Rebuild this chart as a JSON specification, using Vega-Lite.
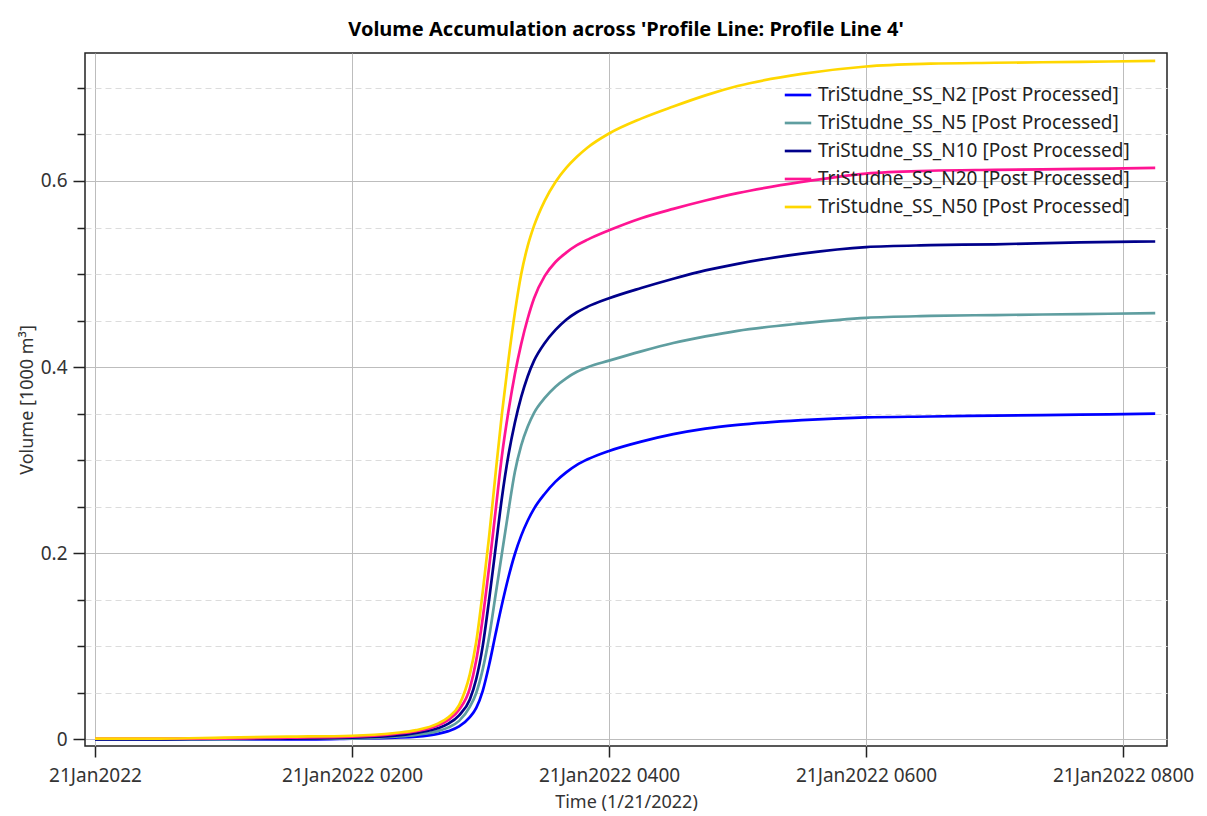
{
  "$schema": "https://vega.github.io/schema/vega-lite/v6.json",
  "width": 1082,
  "height": 693,
  "autosize": "none",
  "padding": {"left": 85, "top": 53, "right": 40, "bottom": 70},
  "background": "white",
  "title": {"text": "Volume Accumulation across 'Profile Line: Profile Line 4'", "font": "Noto Sans", "fontSize": 20, "fontWeight": "bold", "color": "#000", "anchor": "middle", "offset": 13},
  "datasets": {
    "rows": [
      {"time":"2022-01-21T00:00:00","series":"TriStudne_SS_N2 [Post Processed]","volume":0},
      {"time":"2022-01-21T00:30:00","series":"TriStudne_SS_N2 [Post Processed]","volume":0},
      {"time":"2022-01-21T01:00:00","series":"TriStudne_SS_N2 [Post Processed]","volume":0},
      {"time":"2022-01-21T01:30:00","series":"TriStudne_SS_N2 [Post Processed]","volume":0},
      {"time":"2022-01-21T02:00:00","series":"TriStudne_SS_N2 [Post Processed]","volume":0.001},
      {"time":"2022-01-21T02:20:00","series":"TriStudne_SS_N2 [Post Processed]","volume":0.002},
      {"time":"2022-01-21T02:30:00","series":"TriStudne_SS_N2 [Post Processed]","volume":0.003},
      {"time":"2022-01-21T02:40:00","series":"TriStudne_SS_N2 [Post Processed]","volume":0.006},
      {"time":"2022-01-21T02:45:00","series":"TriStudne_SS_N2 [Post Processed]","volume":0.009},
      {"time":"2022-01-21T02:50:00","series":"TriStudne_SS_N2 [Post Processed]","volume":0.014},
      {"time":"2022-01-21T02:55:00","series":"TriStudne_SS_N2 [Post Processed]","volume":0.024},
      {"time":"2022-01-21T02:58:00","series":"TriStudne_SS_N2 [Post Processed]","volume":0.034},
      {"time":"2022-01-21T03:01:00","series":"TriStudne_SS_N2 [Post Processed]","volume":0.052},
      {"time":"2022-01-21T03:04:00","series":"TriStudne_SS_N2 [Post Processed]","volume":0.08},
      {"time":"2022-01-21T03:07:00","series":"TriStudne_SS_N2 [Post Processed]","volume":0.113},
      {"time":"2022-01-21T03:10:00","series":"TriStudne_SS_N2 [Post Processed]","volume":0.145},
      {"time":"2022-01-21T03:13:00","series":"TriStudne_SS_N2 [Post Processed]","volume":0.174},
      {"time":"2022-01-21T03:16:00","series":"TriStudne_SS_N2 [Post Processed]","volume":0.199},
      {"time":"2022-01-21T03:19:00","series":"TriStudne_SS_N2 [Post Processed]","volume":0.219},
      {"time":"2022-01-21T03:22:00","series":"TriStudne_SS_N2 [Post Processed]","volume":0.235},
      {"time":"2022-01-21T03:25:00","series":"TriStudne_SS_N2 [Post Processed]","volume":0.248},
      {"time":"2022-01-21T03:30:00","series":"TriStudne_SS_N2 [Post Processed]","volume":0.264},
      {"time":"2022-01-21T03:35:00","series":"TriStudne_SS_N2 [Post Processed]","volume":0.277},
      {"time":"2022-01-21T03:40:00","series":"TriStudne_SS_N2 [Post Processed]","volume":0.287},
      {"time":"2022-01-21T03:45:00","series":"TriStudne_SS_N2 [Post Processed]","volume":0.295},
      {"time":"2022-01-21T03:50:00","series":"TriStudne_SS_N2 [Post Processed]","volume":0.301},
      {"time":"2022-01-21T04:00:00","series":"TriStudne_SS_N2 [Post Processed]","volume":0.310},
      {"time":"2022-01-21T04:15:00","series":"TriStudne_SS_N2 [Post Processed]","volume":0.320},
      {"time":"2022-01-21T04:30:00","series":"TriStudne_SS_N2 [Post Processed]","volume":0.328},
      {"time":"2022-01-21T04:45:00","series":"TriStudne_SS_N2 [Post Processed]","volume":0.334},
      {"time":"2022-01-21T05:00:00","series":"TriStudne_SS_N2 [Post Processed]","volume":0.338},
      {"time":"2022-01-21T05:30:00","series":"TriStudne_SS_N2 [Post Processed]","volume":0.343},
      {"time":"2022-01-21T06:00:00","series":"TriStudne_SS_N2 [Post Processed]","volume":0.346},
      {"time":"2022-01-21T06:30:00","series":"TriStudne_SS_N2 [Post Processed]","volume":0.347},
      {"time":"2022-01-21T07:00:00","series":"TriStudne_SS_N2 [Post Processed]","volume":0.348},
      {"time":"2022-01-21T07:40:00","series":"TriStudne_SS_N2 [Post Processed]","volume":0.349},
      {"time":"2022-01-21T08:15:00","series":"TriStudne_SS_N2 [Post Processed]","volume":0.350},

      {"time":"2022-01-21T00:00:00","series":"TriStudne_SS_N5 [Post Processed]","volume":0},
      {"time":"2022-01-21T00:30:00","series":"TriStudne_SS_N5 [Post Processed]","volume":0},
      {"time":"2022-01-21T01:00:00","series":"TriStudne_SS_N5 [Post Processed]","volume":0},
      {"time":"2022-01-21T01:30:00","series":"TriStudne_SS_N5 [Post Processed]","volume":0.001},
      {"time":"2022-01-21T02:00:00","series":"TriStudne_SS_N5 [Post Processed]","volume":0.001},
      {"time":"2022-01-21T02:20:00","series":"TriStudne_SS_N5 [Post Processed]","volume":0.003},
      {"time":"2022-01-21T02:30:00","series":"TriStudne_SS_N5 [Post Processed]","volume":0.005},
      {"time":"2022-01-21T02:40:00","series":"TriStudne_SS_N5 [Post Processed]","volume":0.009},
      {"time":"2022-01-21T02:45:00","series":"TriStudne_SS_N5 [Post Processed]","volume":0.013},
      {"time":"2022-01-21T02:50:00","series":"TriStudne_SS_N5 [Post Processed]","volume":0.020},
      {"time":"2022-01-21T02:55:00","series":"TriStudne_SS_N5 [Post Processed]","volume":0.035},
      {"time":"2022-01-21T02:58:00","series":"TriStudne_SS_N5 [Post Processed]","volume":0.050},
      {"time":"2022-01-21T03:01:00","series":"TriStudne_SS_N5 [Post Processed]","volume":0.075},
      {"time":"2022-01-21T03:04:00","series":"TriStudne_SS_N5 [Post Processed]","volume":0.110},
      {"time":"2022-01-21T03:07:00","series":"TriStudne_SS_N5 [Post Processed]","volume":0.155},
      {"time":"2022-01-21T03:10:00","series":"TriStudne_SS_N5 [Post Processed]","volume":0.200},
      {"time":"2022-01-21T03:13:00","series":"TriStudne_SS_N5 [Post Processed]","volume":0.245},
      {"time":"2022-01-21T03:16:00","series":"TriStudne_SS_N5 [Post Processed]","volume":0.287},
      {"time":"2022-01-21T03:19:00","series":"TriStudne_SS_N5 [Post Processed]","volume":0.316},
      {"time":"2022-01-21T03:22:00","series":"TriStudne_SS_N5 [Post Processed]","volume":0.336},
      {"time":"2022-01-21T03:25:00","series":"TriStudne_SS_N5 [Post Processed]","volume":0.351},
      {"time":"2022-01-21T03:30:00","series":"TriStudne_SS_N5 [Post Processed]","volume":0.367},
      {"time":"2022-01-21T03:35:00","series":"TriStudne_SS_N5 [Post Processed]","volume":0.379},
      {"time":"2022-01-21T03:40:00","series":"TriStudne_SS_N5 [Post Processed]","volume":0.388},
      {"time":"2022-01-21T03:45:00","series":"TriStudne_SS_N5 [Post Processed]","volume":0.395},
      {"time":"2022-01-21T03:50:00","series":"TriStudne_SS_N5 [Post Processed]","volume":0.400},
      {"time":"2022-01-21T04:00:00","series":"TriStudne_SS_N5 [Post Processed]","volume":0.407},
      {"time":"2022-01-21T04:15:00","series":"TriStudne_SS_N5 [Post Processed]","volume":0.417},
      {"time":"2022-01-21T04:30:00","series":"TriStudne_SS_N5 [Post Processed]","volume":0.426},
      {"time":"2022-01-21T04:45:00","series":"TriStudne_SS_N5 [Post Processed]","volume":0.433},
      {"time":"2022-01-21T05:00:00","series":"TriStudne_SS_N5 [Post Processed]","volume":0.439},
      {"time":"2022-01-21T05:30:00","series":"TriStudne_SS_N5 [Post Processed]","volume":0.447},
      {"time":"2022-01-21T06:00:00","series":"TriStudne_SS_N5 [Post Processed]","volume":0.453},
      {"time":"2022-01-21T06:30:00","series":"TriStudne_SS_N5 [Post Processed]","volume":0.455},
      {"time":"2022-01-21T07:00:00","series":"TriStudne_SS_N5 [Post Processed]","volume":0.456},
      {"time":"2022-01-21T07:40:00","series":"TriStudne_SS_N5 [Post Processed]","volume":0.457},
      {"time":"2022-01-21T08:15:00","series":"TriStudne_SS_N5 [Post Processed]","volume":0.458},

      {"time":"2022-01-21T00:00:00","series":"TriStudne_SS_N10 [Post Processed]","volume":0},
      {"time":"2022-01-21T00:30:00","series":"TriStudne_SS_N10 [Post Processed]","volume":0},
      {"time":"2022-01-21T01:00:00","series":"TriStudne_SS_N10 [Post Processed]","volume":0.001},
      {"time":"2022-01-21T01:30:00","series":"TriStudne_SS_N10 [Post Processed]","volume":0.001},
      {"time":"2022-01-21T02:00:00","series":"TriStudne_SS_N10 [Post Processed]","volume":0.002},
      {"time":"2022-01-21T02:20:00","series":"TriStudne_SS_N10 [Post Processed]","volume":0.004},
      {"time":"2022-01-21T02:30:00","series":"TriStudne_SS_N10 [Post Processed]","volume":0.007},
      {"time":"2022-01-21T02:40:00","series":"TriStudne_SS_N10 [Post Processed]","volume":0.012},
      {"time":"2022-01-21T02:45:00","series":"TriStudne_SS_N10 [Post Processed]","volume":0.017},
      {"time":"2022-01-21T02:50:00","series":"TriStudne_SS_N10 [Post Processed]","volume":0.026},
      {"time":"2022-01-21T02:55:00","series":"TriStudne_SS_N10 [Post Processed]","volume":0.043},
      {"time":"2022-01-21T02:58:00","series":"TriStudne_SS_N10 [Post Processed]","volume":0.065},
      {"time":"2022-01-21T03:01:00","series":"TriStudne_SS_N10 [Post Processed]","volume":0.100},
      {"time":"2022-01-21T03:04:00","series":"TriStudne_SS_N10 [Post Processed]","volume":0.150},
      {"time":"2022-01-21T03:07:00","series":"TriStudne_SS_N10 [Post Processed]","volume":0.205},
      {"time":"2022-01-21T03:10:00","series":"TriStudne_SS_N10 [Post Processed]","volume":0.260},
      {"time":"2022-01-21T03:13:00","series":"TriStudne_SS_N10 [Post Processed]","volume":0.305},
      {"time":"2022-01-21T03:16:00","series":"TriStudne_SS_N10 [Post Processed]","volume":0.340},
      {"time":"2022-01-21T03:19:00","series":"TriStudne_SS_N10 [Post Processed]","volume":0.368},
      {"time":"2022-01-21T03:22:00","series":"TriStudne_SS_N10 [Post Processed]","volume":0.390},
      {"time":"2022-01-21T03:25:00","series":"TriStudne_SS_N10 [Post Processed]","volume":0.407},
      {"time":"2022-01-21T03:30:00","series":"TriStudne_SS_N10 [Post Processed]","volume":0.426},
      {"time":"2022-01-21T03:35:00","series":"TriStudne_SS_N10 [Post Processed]","volume":0.440},
      {"time":"2022-01-21T03:40:00","series":"TriStudne_SS_N10 [Post Processed]","volume":0.451},
      {"time":"2022-01-21T03:45:00","series":"TriStudne_SS_N10 [Post Processed]","volume":0.459},
      {"time":"2022-01-21T03:50:00","series":"TriStudne_SS_N10 [Post Processed]","volume":0.465},
      {"time":"2022-01-21T04:00:00","series":"TriStudne_SS_N10 [Post Processed]","volume":0.474},
      {"time":"2022-01-21T04:15:00","series":"TriStudne_SS_N10 [Post Processed]","volume":0.485},
      {"time":"2022-01-21T04:30:00","series":"TriStudne_SS_N10 [Post Processed]","volume":0.495},
      {"time":"2022-01-21T04:45:00","series":"TriStudne_SS_N10 [Post Processed]","volume":0.504},
      {"time":"2022-01-21T05:00:00","series":"TriStudne_SS_N10 [Post Processed]","volume":0.511},
      {"time":"2022-01-21T05:30:00","series":"TriStudne_SS_N10 [Post Processed]","volume":0.522},
      {"time":"2022-01-21T06:00:00","series":"TriStudne_SS_N10 [Post Processed]","volume":0.529},
      {"time":"2022-01-21T06:30:00","series":"TriStudne_SS_N10 [Post Processed]","volume":0.531},
      {"time":"2022-01-21T07:00:00","series":"TriStudne_SS_N10 [Post Processed]","volume":0.532},
      {"time":"2022-01-21T07:40:00","series":"TriStudne_SS_N10 [Post Processed]","volume":0.534},
      {"time":"2022-01-21T08:15:00","series":"TriStudne_SS_N10 [Post Processed]","volume":0.535},

      {"time":"2022-01-21T00:00:00","series":"TriStudne_SS_N20 [Post Processed]","volume":0.001},
      {"time":"2022-01-21T00:30:00","series":"TriStudne_SS_N20 [Post Processed]","volume":0.001},
      {"time":"2022-01-21T01:00:00","series":"TriStudne_SS_N20 [Post Processed]","volume":0.001},
      {"time":"2022-01-21T01:30:00","series":"TriStudne_SS_N20 [Post Processed]","volume":0.002},
      {"time":"2022-01-21T02:00:00","series":"TriStudne_SS_N20 [Post Processed]","volume":0.003},
      {"time":"2022-01-21T02:20:00","series":"TriStudne_SS_N20 [Post Processed]","volume":0.006},
      {"time":"2022-01-21T02:30:00","series":"TriStudne_SS_N20 [Post Processed]","volume":0.009},
      {"time":"2022-01-21T02:40:00","series":"TriStudne_SS_N20 [Post Processed]","volume":0.015},
      {"time":"2022-01-21T02:45:00","series":"TriStudne_SS_N20 [Post Processed]","volume":0.021},
      {"time":"2022-01-21T02:50:00","series":"TriStudne_SS_N20 [Post Processed]","volume":0.032},
      {"time":"2022-01-21T02:55:00","series":"TriStudne_SS_N20 [Post Processed]","volume":0.055},
      {"time":"2022-01-21T02:58:00","series":"TriStudne_SS_N20 [Post Processed]","volume":0.085},
      {"time":"2022-01-21T03:01:00","series":"TriStudne_SS_N20 [Post Processed]","volume":0.130},
      {"time":"2022-01-21T03:04:00","series":"TriStudne_SS_N20 [Post Processed]","volume":0.185},
      {"time":"2022-01-21T03:07:00","series":"TriStudne_SS_N20 [Post Processed]","volume":0.245},
      {"time":"2022-01-21T03:10:00","series":"TriStudne_SS_N20 [Post Processed]","volume":0.305},
      {"time":"2022-01-21T03:13:00","series":"TriStudne_SS_N20 [Post Processed]","volume":0.352},
      {"time":"2022-01-21T03:16:00","series":"TriStudne_SS_N20 [Post Processed]","volume":0.392},
      {"time":"2022-01-21T03:19:00","series":"TriStudne_SS_N20 [Post Processed]","volume":0.425},
      {"time":"2022-01-21T03:22:00","series":"TriStudne_SS_N20 [Post Processed]","volume":0.452},
      {"time":"2022-01-21T03:25:00","series":"TriStudne_SS_N20 [Post Processed]","volume":0.474},
      {"time":"2022-01-21T03:30:00","series":"TriStudne_SS_N20 [Post Processed]","volume":0.498},
      {"time":"2022-01-21T03:35:00","series":"TriStudne_SS_N20 [Post Processed]","volume":0.513},
      {"time":"2022-01-21T03:40:00","series":"TriStudne_SS_N20 [Post Processed]","volume":0.523},
      {"time":"2022-01-21T03:45:00","series":"TriStudne_SS_N20 [Post Processed]","volume":0.531},
      {"time":"2022-01-21T03:50:00","series":"TriStudne_SS_N20 [Post Processed]","volume":0.537},
      {"time":"2022-01-21T04:00:00","series":"TriStudne_SS_N20 [Post Processed]","volume":0.547},
      {"time":"2022-01-21T04:15:00","series":"TriStudne_SS_N20 [Post Processed]","volume":0.560},
      {"time":"2022-01-21T04:30:00","series":"TriStudne_SS_N20 [Post Processed]","volume":0.570},
      {"time":"2022-01-21T04:45:00","series":"TriStudne_SS_N20 [Post Processed]","volume":0.579},
      {"time":"2022-01-21T05:00:00","series":"TriStudne_SS_N20 [Post Processed]","volume":0.587},
      {"time":"2022-01-21T05:30:00","series":"TriStudne_SS_N20 [Post Processed]","volume":0.599},
      {"time":"2022-01-21T06:00:00","series":"TriStudne_SS_N20 [Post Processed]","volume":0.608},
      {"time":"2022-01-21T06:30:00","series":"TriStudne_SS_N20 [Post Processed]","volume":0.611},
      {"time":"2022-01-21T07:00:00","series":"TriStudne_SS_N20 [Post Processed]","volume":0.612},
      {"time":"2022-01-21T07:40:00","series":"TriStudne_SS_N20 [Post Processed]","volume":0.613},
      {"time":"2022-01-21T08:15:00","series":"TriStudne_SS_N20 [Post Processed]","volume":0.614},

      {"time":"2022-01-21T00:00:00","series":"TriStudne_SS_N50 [Post Processed]","volume":0.001},
      {"time":"2022-01-21T00:30:00","series":"TriStudne_SS_N50 [Post Processed]","volume":0.001},
      {"time":"2022-01-21T01:00:00","series":"TriStudne_SS_N50 [Post Processed]","volume":0.002},
      {"time":"2022-01-21T01:30:00","series":"TriStudne_SS_N50 [Post Processed]","volume":0.003},
      {"time":"2022-01-21T02:00:00","series":"TriStudne_SS_N50 [Post Processed]","volume":0.004},
      {"time":"2022-01-21T02:20:00","series":"TriStudne_SS_N50 [Post Processed]","volume":0.007},
      {"time":"2022-01-21T02:30:00","series":"TriStudne_SS_N50 [Post Processed]","volume":0.010},
      {"time":"2022-01-21T02:40:00","series":"TriStudne_SS_N50 [Post Processed]","volume":0.017},
      {"time":"2022-01-21T02:45:00","series":"TriStudne_SS_N50 [Post Processed]","volume":0.024},
      {"time":"2022-01-21T02:50:00","series":"TriStudne_SS_N50 [Post Processed]","volume":0.037},
      {"time":"2022-01-21T02:55:00","series":"TriStudne_SS_N50 [Post Processed]","volume":0.070},
      {"time":"2022-01-21T02:58:00","series":"TriStudne_SS_N50 [Post Processed]","volume":0.105},
      {"time":"2022-01-21T03:01:00","series":"TriStudne_SS_N50 [Post Processed]","volume":0.158},
      {"time":"2022-01-21T03:04:00","series":"TriStudne_SS_N50 [Post Processed]","volume":0.218},
      {"time":"2022-01-21T03:07:00","series":"TriStudne_SS_N50 [Post Processed]","volume":0.285},
      {"time":"2022-01-21T03:10:00","series":"TriStudne_SS_N50 [Post Processed]","volume":0.350},
      {"time":"2022-01-21T03:13:00","series":"TriStudne_SS_N50 [Post Processed]","volume":0.407},
      {"time":"2022-01-21T03:16:00","series":"TriStudne_SS_N50 [Post Processed]","volume":0.458},
      {"time":"2022-01-21T03:19:00","series":"TriStudne_SS_N50 [Post Processed]","volume":0.500},
      {"time":"2022-01-21T03:22:00","series":"TriStudne_SS_N50 [Post Processed]","volume":0.530},
      {"time":"2022-01-21T03:25:00","series":"TriStudne_SS_N50 [Post Processed]","volume":0.552},
      {"time":"2022-01-21T03:30:00","series":"TriStudne_SS_N50 [Post Processed]","volume":0.579},
      {"time":"2022-01-21T03:35:00","series":"TriStudne_SS_N50 [Post Processed]","volume":0.599},
      {"time":"2022-01-21T03:40:00","series":"TriStudne_SS_N50 [Post Processed]","volume":0.614},
      {"time":"2022-01-21T03:45:00","series":"TriStudne_SS_N50 [Post Processed]","volume":0.626},
      {"time":"2022-01-21T03:50:00","series":"TriStudne_SS_N50 [Post Processed]","volume":0.636},
      {"time":"2022-01-21T04:00:00","series":"TriStudne_SS_N50 [Post Processed]","volume":0.651},
      {"time":"2022-01-21T04:15:00","series":"TriStudne_SS_N50 [Post Processed]","volume":0.667},
      {"time":"2022-01-21T04:30:00","series":"TriStudne_SS_N50 [Post Processed]","volume":0.680},
      {"time":"2022-01-21T04:45:00","series":"TriStudne_SS_N50 [Post Processed]","volume":0.692},
      {"time":"2022-01-21T05:00:00","series":"TriStudne_SS_N50 [Post Processed]","volume":0.702},
      {"time":"2022-01-21T05:30:00","series":"TriStudne_SS_N50 [Post Processed]","volume":0.715},
      {"time":"2022-01-21T06:00:00","series":"TriStudne_SS_N50 [Post Processed]","volume":0.723},
      {"time":"2022-01-21T06:30:00","series":"TriStudne_SS_N50 [Post Processed]","volume":0.726},
      {"time":"2022-01-21T07:00:00","series":"TriStudne_SS_N50 [Post Processed]","volume":0.727},
      {"time":"2022-01-21T07:40:00","series":"TriStudne_SS_N50 [Post Processed]","volume":0.728},
      {"time":"2022-01-21T08:15:00","series":"TriStudne_SS_N50 [Post Processed]","volume":0.729}
    ]
  },
  "data": {"name": "rows"},
  "mark": {"type": "line", "strokeWidth": 2.7, "interpolate": "monotone"},
  "encoding": {
    "x": {
      "field": "time", "type": "temporal",
      "scale": {"domain": [
        {"year": 2022, "month": 1, "date": 20, "hours": 23, "minutes": 55, "seconds": 20},
        {"year": 2022, "month": 1, "date": 21, "hours": 8, "minutes": 20, "seconds": 30}
      ], "nice": false},
      "axis": {
        "values": [
          {"year": 2022, "month": 1, "date": 21, "hours": 0},
          {"year": 2022, "month": 1, "date": 21, "hours": 2},
          {"year": 2022, "month": 1, "date": 21, "hours": 4},
          {"year": 2022, "month": 1, "date": 21, "hours": 6},
          {"year": 2022, "month": 1, "date": 21, "hours": 8}
        ],
        "labelExpr": "hours(datum.value) == 0 ? timeFormat(datum.value, '%d%b%Y') : timeFormat(datum.value, '%d%b%Y %H%M')",
        "title": "Time (1/21/2022)",
        "grid": true, "gridColor": "#bdbdbd", "gridWidth": 1,
        "domain": false,
        "ticks": true, "tickColor": "#222", "tickSize": 11, "tickWidth": 1.5,
        "labelFont": "Noto Sans", "labelFontSize": 19, "labelColor": "#333", "labelPadding": 9, "labelFlush": false, "labelOverlap": false,
        "titleFont": "Noto Sans", "titleFontSize": 18, "titleFontWeight": "normal", "titleColor": "#333", "titlePadding": 8
      }
    },
    "y": {
      "field": "volume", "type": "quantitative",
      "scale": {"domain": [-0.007, 0.7375], "nice": false, "zero": false},
      "axis": {
        "values": [0, 0.05, 0.1, 0.15, 0.2, 0.25, 0.3, 0.35, 0.4, 0.45, 0.5, 0.55, 0.6, 0.65, 0.7],
        "labelExpr": "abs(datum.value * 5 - round(datum.value * 5)) < 0.001 ? format(datum.value, '.1~f') : ''",
        "title": "Volume [1000 m³]",
        "grid": true,
        "gridColor": {"condition": {"test": "abs(datum.value * 5 - round(datum.value * 5)) < 0.001", "value": "#bdbdbd"}, "value": "#dcdcdc"},
        "gridDash": {"condition": {"test": "abs(datum.value * 5 - round(datum.value * 5)) < 0.001", "value": []}, "value": [6, 4]},
        "domain": false,
        "tickColor": "#222", "tickWidth": 1.5,
        "tickSize": {"condition": {"test": "abs(datum.value * 5 - round(datum.value * 5)) < 0.001", "value": 12}, "value": 8},
        "labelFont": "Noto Sans", "labelFontSize": 19, "labelColor": "#333", "labelPadding": 6, "labelOverlap": false,
        "titleFont": "Noto Sans", "titleFontSize": 18, "titleFontWeight": "normal", "titleColor": "#333", "titlePadding": 4
      }
    },
    "color": {
      "field": "series", "type": "nominal",
      "scale": {
        "domain": ["TriStudne_SS_N2 [Post Processed]", "TriStudne_SS_N5 [Post Processed]", "TriStudne_SS_N10 [Post Processed]", "TriStudne_SS_N20 [Post Processed]", "TriStudne_SS_N50 [Post Processed]"],
        "range": ["#0000ff", "#5f9ea0", "#00008b", "#ff1493", "#ffd700"]
      },
      "legend": {
        "orient": "none", "legendX": 698, "legendY": 27, "title": null,
        "symbolType": "stroke", "symbolSize": 700, "symbolStrokeWidth": 2.7,
        "labelFont": "Noto Sans", "labelFontSize": 19, "labelColor": "#222", "labelLimit": 500,
        "rowPadding": 3, "labelOffset": 5
      }
    }
  },
  "config": {"view": {"stroke": "#222", "strokeWidth": 1.5}}
}
